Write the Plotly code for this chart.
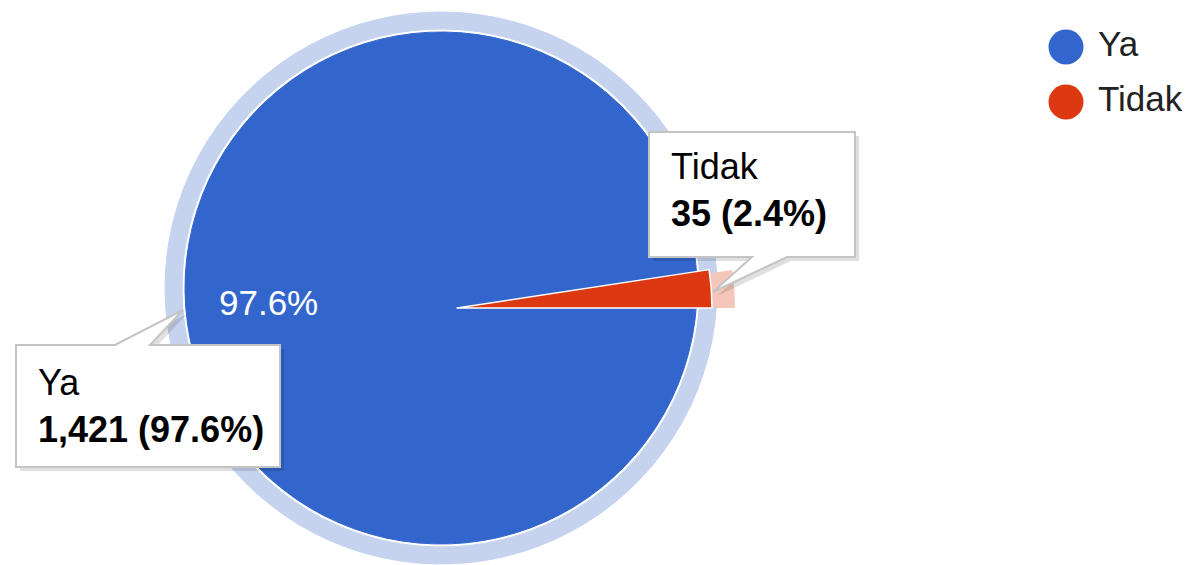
import plotly.graph_objects as go

# ---- data ----
labels = ["Ya", "Tidak"]
values = [1421, 35]
colors = ["#3366cc", "#dc3912"]
halo_colors = ["#c6d3ef", "#f5c6ba"]

W, H = 1189, 565
FONT = "Liberation Sans"
total = sum(values)
pcts = [v / total * 100 for v in values]

# geometry (pixels, from top-left)
cx, cy = 441, 288           # main pie centre
r_pie = 256
r_halo_out, r_halo_in = 276, 259
sel_cx, sel_cy = 457, 308   # centre of the offset (selected) small slice
r_sel = 255
# highlight of the small slice: centre moved outward so the pie fits in the figure
sel_halo_cx = 483
r_sel_halo_out, r_sel_halo_in = 252, 229

rotation = 90  # clockwise: first slice starts at 3 o'clock


def domain(ccx, ccy, r):
    x0, x1 = ccx - r, ccx + r
    y0, y1 = (H - ccy) - r, (H - ccy) + r
    return dict(x=[max(0, x0 / W), min(1, x1 / W)], y=[max(0, y0 / H), min(1, y1 / H)])


def pie(cols, dom, hole=0, lw=0, lc="white"):
    return go.Pie(
        labels=labels, values=values, sort=False, direction="clockwise",
        rotation=rotation, hole=hole,
        marker=dict(colors=cols, line=dict(width=lw, color=lc)),
        textinfo="none", hoverinfo="skip", showlegend=False, domain=dom,
    )


fig = go.Figure()
T = "rgba(0,0,0,0)"
# highlight rings
fig.add_trace(pie([halo_colors[0]] * 2, domain(cx, cy, r_halo_out),
                  hole=r_halo_in / r_halo_out, lw=1, lc=halo_colors[0]))
fig.add_trace(pie([T, halo_colors[1]], domain(sel_halo_cx, sel_cy, r_sel_halo_out),
                  hole=r_sel_halo_in / r_sel_halo_out))
# main pie body
fig.add_trace(pie([colors[0]] * 2, domain(cx, cy, r_pie), lw=1, lc=colors[0]))
# small slice, offset
fig.add_trace(pie([T, colors[1]], domain(sel_cx, sel_cy, r_sel), lw=[0, 1.5]))

# percentage label inside the big slice
fig.add_annotation(x=268, y=302, xref="x", yref="y", showarrow=False,
                   text=f"{pcts[0]:.1f}%", xanchor="center", yanchor="middle",
                   font=dict(family=FONT, size=35, color="white"))

# custom circular legend on hidden pixel axes
leg_x = [1066] * len(labels)
leg_y = [47 + 55 * k for k in range(len(labels))]
fig.add_trace(go.Scatter(
    x=leg_x, y=leg_y, mode="markers+text",
    marker=dict(size=35, color=colors, symbol="circle"),
    text=[" " + l for l in labels], textposition="middle right",
    textfont=dict(family=FONT, size=35, color="#222222"),
    hoverinfo="skip", showlegend=False, cliponaxis=False,
))

# tooltips: box with callout wedge
tips = [
    dict(box=(16, 345, 280, 467), wedge=(115, 150), tip=(183, 310), side="top", ty=406),
    dict(box=(649, 132, 855, 257), wedge=(752, 787), tip=(713, 292), side="bottom", ty=190),
]


def callout_path(b, wg, tp, side, dx=0, dy=0):
    x0, y0, x1, y1 = b[0] + dx, b[1] + dy, b[2] + dx, b[3] + dy
    w0, w1 = wg[0] + dx, wg[1] + dx
    tx, tyy = tp[0] + dx, tp[1] + dy
    if side == "top":
        pts = [(x0, y0), (w0, y0), (tx, tyy), (w1, y0), (x1, y0), (x1, y1), (x0, y1)]
    else:
        pts = [(x0, y0), (x1, y0), (x1, y1), (w1, y1), (tx, tyy), (w0, y1), (x0, y1)]
    return "M " + " L ".join(f"{px},{py}" for px, py in pts) + " Z"


for i, t in enumerate(tips):
    fig.add_shape(type="path", xref="x", yref="y", layer="above",
                  path=callout_path(t["box"], t["wedge"], t["tip"], t["side"], 4, 4),
                  fillcolor="rgba(0,0,0,0.12)", line=dict(width=0))
    fig.add_shape(type="path", xref="x", yref="y", layer="above",
                  path=callout_path(t["box"], t["wedge"], t["tip"], t["side"]),
                  fillcolor="white", line=dict(color="#c4c4c4", width=2))
    txt = f"{labels[i]}<br><b>{values[i]:,} ({pcts[i]:.1f}%)</b>"
    fig.add_annotation(x=t["box"][0] + 20, y=t["ty"], xref="x", yref="y",
                       showarrow=False, text=txt, align="left",
                       xanchor="left", yanchor="middle",
                       font=dict(family=FONT, size=36, color="#000000"))

fig.update_layout(
    width=W, height=H,
    margin=dict(l=0, r=0, t=0, b=0),
    paper_bgcolor="white", plot_bgcolor="rgba(0,0,0,0)",
    xaxis=dict(range=[0, W], visible=False, fixedrange=True, domain=[0, 1]),
    yaxis=dict(range=[H, 0], visible=False, fixedrange=True, domain=[0, 1]),
    font=dict(family=FONT),
)

fig.write_html(
    "out.html",
    config={"displayModeBar": False},
    post_script="document.body.style.margin='0px';document.body.style.overflow='hidden';",
)
